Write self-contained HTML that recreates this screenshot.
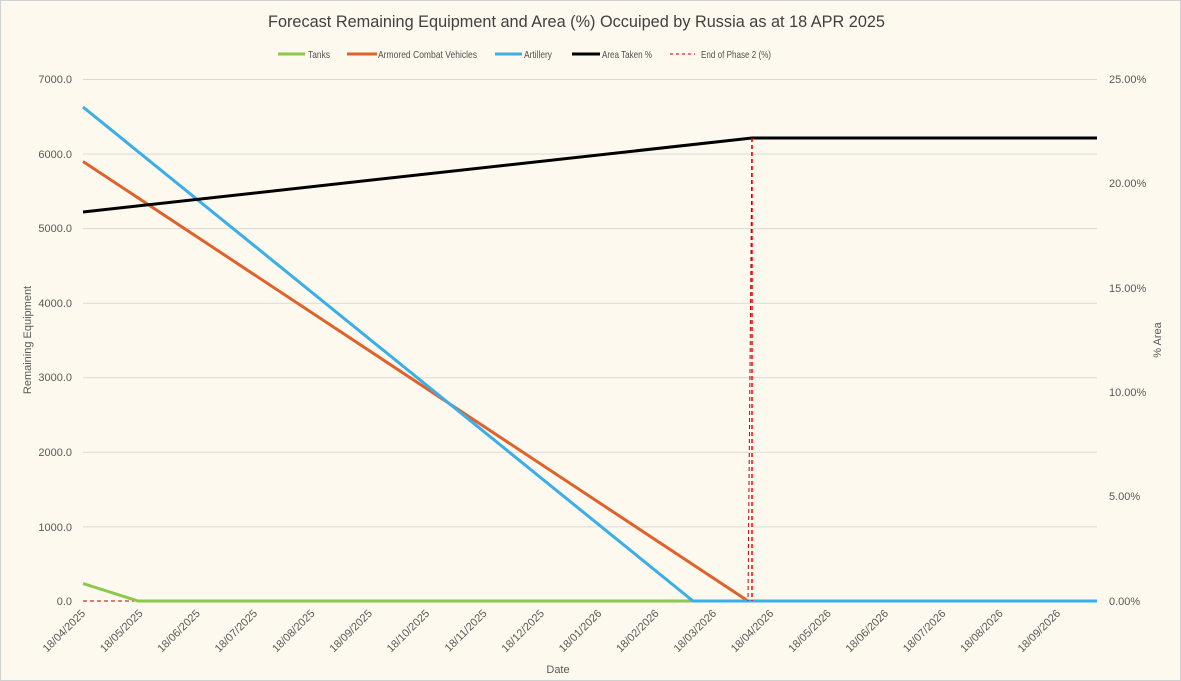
<!DOCTYPE html>
<html><head><meta charset="utf-8"><style>
html,body{margin:0;padding:0;background:#fdf9ef;}
svg{display:block;font-family:"Liberation Sans",sans-serif;}
</style></head><body>
<svg width="1181" height="681" viewBox="0 0 1181 681">
<rect x="0.5" y="0.5" width="1180" height="680" fill="#fdf9ef" stroke="#d0d0d0"/>
<text x="268" y="27" font-size="17" fill="#404040" textLength="617" lengthAdjust="spacingAndGlyphs">Forecast Remaining Equipment and Area (%) Occuiped by Russia as at 18 APR 2025</text>
<g font-size="10.5" fill="#505050">
<line x1="278" y1="54" x2="305" y2="54" stroke="#8cc84b" stroke-width="3"/><text x="308" y="58" textLength="22" lengthAdjust="spacingAndGlyphs">Tanks</text>
<line x1="347" y1="54" x2="377" y2="54" stroke="#e0622a" stroke-width="3"/><text x="378" y="58" textLength="99" lengthAdjust="spacingAndGlyphs">Armored Combat Vehicles</text>
<line x1="495" y1="54" x2="522" y2="54" stroke="#3aaee8" stroke-width="3"/><text x="524" y="58" textLength="28" lengthAdjust="spacingAndGlyphs">Artillery</text>
<line x1="572" y1="54" x2="600" y2="54" stroke="#000" stroke-width="3"/><text x="602" y="58" textLength="50" lengthAdjust="spacingAndGlyphs">Area Taken %</text>
<line x1="670" y1="54" x2="695" y2="54" stroke="#c00000" stroke-width="1" stroke-dasharray="3,3"/><text x="701" y="58" textLength="70" lengthAdjust="spacingAndGlyphs">End of Phase 2 (%)</text>
</g>
<g stroke="#d9d9d9" stroke-width="1">
<line x1="83" y1="79.5" x2="1097" y2="79.5"/>
<line x1="83" y1="154" x2="1097" y2="154"/>
<line x1="83" y1="228.6" x2="1097" y2="228.6"/>
<line x1="83" y1="303.2" x2="1097" y2="303.2"/>
<line x1="83" y1="377.7" x2="1097" y2="377.7"/>
<line x1="83" y1="452.3" x2="1097" y2="452.3"/>
<line x1="83" y1="526.9" x2="1097" y2="526.9"/>
</g>
<g font-size="11" fill="#595959" text-anchor="end">
<text x="72" y="83">7000.0</text><text x="72" y="158">6000.0</text><text x="72" y="232">5000.0</text>
<text x="72" y="307">4000.0</text><text x="72" y="381">3000.0</text><text x="72" y="456">2000.0</text>
<text x="72" y="531">1000.0</text><text x="72" y="605">0.0</text>
</g>
<g font-size="11" fill="#595959">
<text x="1109" y="83">25.00%</text><text x="1109" y="187">20.00%</text><text x="1109" y="292">15.00%</text>
<text x="1109" y="396">10.00%</text><text x="1109" y="500">5.00%</text><text x="1109" y="605">0.00%</text>
</g>
<text transform="translate(31,340) rotate(-90)" font-size="11" fill="#595959" text-anchor="middle">Remaining Equipment</text>
<text transform="translate(1161,340) rotate(-90)" font-size="11" fill="#595959" text-anchor="middle">% Area</text>
<text x="558" y="673" font-size="11" fill="#595959" text-anchor="middle">Date</text>
<g font-size="11" fill="#595959" text-anchor="end">
<text transform="translate(86,614) rotate(-45)">18/04/2025</text>
<text transform="translate(143.4,614) rotate(-45)">18/05/2025</text>
<text transform="translate(200.7,614) rotate(-45)">18/06/2025</text>
<text transform="translate(258,614) rotate(-45)">18/07/2025</text>
<text transform="translate(315.4,614) rotate(-45)">18/08/2025</text>
<text transform="translate(372.8,614) rotate(-45)">18/09/2025</text>
<text transform="translate(430.1,614) rotate(-45)">18/10/2025</text>
<text transform="translate(487.5,614) rotate(-45)">18/11/2025</text>
<text transform="translate(544.8,614) rotate(-45)">18/12/2025</text>
<text transform="translate(602.2,614) rotate(-45)">18/01/2026</text>
<text transform="translate(659.5,614) rotate(-45)">18/02/2026</text>
<text transform="translate(716.9,614) rotate(-45)">18/03/2026</text>
<text transform="translate(774.2,614) rotate(-45)">18/04/2026</text>
<text transform="translate(831.6,614) rotate(-45)">18/05/2026</text>
<text transform="translate(888.9,614) rotate(-45)">18/06/2026</text>
<text transform="translate(946.3,614) rotate(-45)">18/07/2026</text>
<text transform="translate(1003.6,614) rotate(-45)">18/08/2026</text>
<text transform="translate(1061,614) rotate(-45)">18/09/2026</text>
</g>
<line x1="83" y1="601" x2="1097" y2="601" stroke="#c00000" stroke-width="1" stroke-dasharray="4,3"/>
<polyline points="83,583.5 138,601 693,601" fill="none" stroke="#8cc84b" stroke-width="3"/>
<polyline points="83,161.5 748,601" fill="none" stroke="#e0622a" stroke-width="3"/>
<polyline points="83,107 693,601 1097,601" fill="none" stroke="#3aaee8" stroke-width="3"/>
<polyline points="83,212 752,138 1097,138" fill="none" stroke="#000" stroke-width="3"/>
<line x1="752" y1="138" x2="752" y2="601" stroke="#ff0000" stroke-width="1.5" stroke-dasharray="4,3"/>
<line x1="752" y1="138" x2="748" y2="601" stroke="#c00000" stroke-width="1" stroke-dasharray="4,3"/>
</svg>
</body></html>
